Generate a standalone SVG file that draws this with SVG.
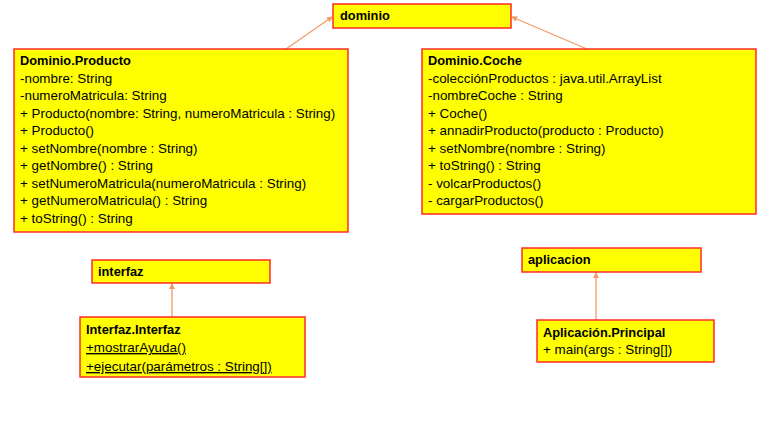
<svg xmlns="http://www.w3.org/2000/svg" width="780" height="439" viewBox="0 0 780 439">
<style>
.box{fill:#FFFF00;stroke:#FF2A2A;stroke-width:1.5}
text{font-family:"Liberation Sans",Arial,sans-serif;font-size:13.4px;fill:#000}
.b{font-weight:bold;font-size:12.8px}
.u{text-decoration:underline}
.conn{stroke:#F29A66;stroke-width:1.3;fill:none}
</style>
<defs>
<marker id="ah" markerWidth="6" markerHeight="6" refX="5" refY="3" orient="auto" markerUnits="userSpaceOnUse">
<path d="M0,0 L6,3 L0,6 Z" fill="#F29A66"/>
</marker>
</defs>
<rect width="780" height="439" fill="#FFFFFF"/>
<g id="connectors">
<line class="conn" x1="286" y1="49" x2="332" y2="17" marker-end="url(#ah)"/>
<line class="conn" x1="587" y1="49" x2="512" y2="17" marker-end="url(#ah)"/>
<line class="conn" x1="172" y1="317" x2="172" y2="284" marker-end="url(#ah)"/>
<line class="conn" x1="596" y1="320" x2="596" y2="273" marker-end="url(#ah)"/>
</g>
<g id="dominio">
<rect class="box" x="333" y="4" width="178" height="24"/>
<text class="b" x="340" y="20">dominio</text>
</g>
<g id="producto">
<rect class="box" x="14" y="49" width="334" height="183"/>
<text class="b" x="20" y="65">Dominio.Producto</text>
<text x="20" y="82.5">-nombre: String</text>
<text x="20" y="100">-numeroMatricula: String</text>
<text x="20" y="117.5">+ Producto(nombre: String, numeroMatricula : String)</text>
<text x="20" y="135">+ Producto()</text>
<text x="20" y="152.5">+ setNombre(nombre : String)</text>
<text x="20" y="170">+ getNombre() : String</text>
<text x="20" y="187.5">+ setNumeroMatricula(numeroMatricula : String)</text>
<text x="20" y="205">+ getNumeroMatricula() : String</text>
<text x="20" y="222.5">+ toString() : String</text>
</g>
<g id="coche">
<rect class="box" x="422" y="49" width="334" height="165"/>
<text class="b" x="428" y="65">Dominio.Coche</text>
<text x="428" y="82.5">-colecciónProductos : java.util.ArrayList</text>
<text x="428" y="100">-nombreCoche : String</text>
<text x="428" y="117.5">+ Coche()</text>
<text x="428" y="135">+ annadirProducto(producto : Producto)</text>
<text x="428" y="152.5">+ setNombre(nombre : String)</text>
<text x="428" y="170">+ toString() : String</text>
<text x="428" y="187.5">- volcarProductos()</text>
<text x="428" y="205">- cargarProductos()</text>
</g>
<g id="interfaz">
<rect class="box" x="92" y="260" width="178" height="23"/>
<text class="b" x="98" y="276">interfaz</text>
</g>
<g id="interfaz-interfaz">
<rect class="box" x="80" y="317" width="225" height="60"/>
<text class="b" x="86" y="334">Interfaz.Interfaz</text>
<text class="u" x="86" y="352">+mostrarAyuda()</text>
<text class="u" x="86" y="371">+ejecutar(parámetros : String[])</text>
</g>
<g id="aplicacion">
<rect class="box" x="522" y="248" width="179" height="24"/>
<text class="b" x="528" y="264">aplicacion</text>
</g>
<g id="principal">
<rect class="box" x="537" y="320" width="177" height="42"/>
<text class="b" x="543" y="337">Aplicación.Principal</text>
<text x="543" y="354">+ main(args : String[])</text>
</g>
</svg>
